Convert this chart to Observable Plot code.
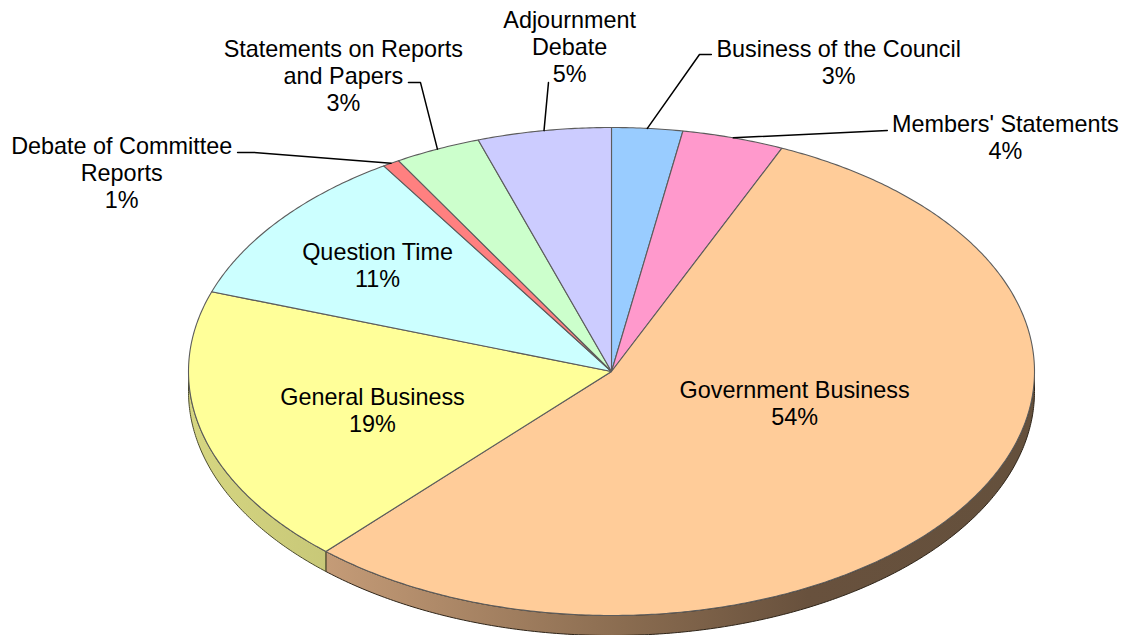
<!DOCTYPE html>
<html>
<head>
<meta charset="utf-8">
<style>html,body{margin:0;padding:0;background:#fff}svg{display:block}</style>
<script src="https://cdn.jsdelivr.net/npm/d3@7"></script>
<script src="https://cdn.jsdelivr.net/npm/@observablehq/plot@0.6"></script>
</head>
<body>
<div id="chart"></div>
<script>
// Slices clockwise from 12 o'clock
const categories = ["Business of the Council","Members' Statements","Government Business","General Business","Question Time","Debate of Committee Reports","Statements on Reports and Papers","Adjournment Debate"];
const drawnShares = [2.7, 3.9, 55.2, 18.5, 10.65, 0.65, 3.3, 5.1];
const labelTexts = ["Business of the Council\n3%","Members' Statements\n4%","Government Business\n54%","General Business\n19%","Question Time\n11%","Debate of Committee\nReports\n1%","Statements on Reports\nand Papers\n3%","Adjournment\nDebate\n5%"];
const sliceColors = ["#99CCFF","#FF99CC","#FFCC99","#FFFF99","#CCFFFF","#FF8080","#CCFFCC","#CCCCFF"];
// Label centres and leader-line bends, in pie radii (1 = rim)
const labelX = [0.537, 0.931, 0.433, -0.565, -0.553, -1.158, -0.634, -0.099];
const labelY = [1.269, 0.962, -0.128, -0.157, 0.437, 0.815, 1.214, 1.333];
const leaderBends = [
  [[0.236,1.299],[0.208,1.299]],
  [[0.652,0.988]],
  null, null, null,
  [[-0.884,0.898],[-0.846,0.898]],
  [[-0.480,1.184],[-0.4515,1.184]],
  [[-0.149,1.184]]
];
const depth = 0.082;

const rad = d => d * Math.PI / 180;
const rim = (deg, dv = 0) => ({x: Math.sin(rad(deg)), y: Math.cos(rad(deg)) - dv});
const total = d3.sum(drawnShares);
let acc = 0;
const slices = drawnShares.map((v, i) => {
  const a0 = acc / total * 360; acc += v; const a1 = acc / total * 360;
  return {i, name: categories[i], a0, a1, mid: (a0 + a1) / 2};
});
const arc = (a0, a1, dv = 0) => { const n = Math.max(2, Math.ceil((a1 - a0) / 0.5)); return d3.range(n + 1).map(k => rim(a0 + (a1 - a0) * k / n, dv)); };

const slicePoly = s => [{x:0,y:0}, ...arc(s.a0, s.a1), {x:0,y:0}];
const wall = (a0, a1) => { const top = arc(a0, a1), bot = arc(a0, a1, depth).reverse(); return [...top, ...bot, top[0]]; };

const govEnd = slices[2].a1;
const scaleX = {domain:[-1,1], range:[188,1034]};
const scaleY = {domain:[-1,1], range:[615,127]};

const defs = () => {
  const ns = "http://www.w3.org/2000/svg";
  const d = document.createElementNS(ns, "defs");
  const grad = (id, x1, x2, stops) => {
    const g = document.createElementNS(ns, "linearGradient");
    g.setAttribute("id", id); g.setAttribute("gradientUnits", "userSpaceOnUse");
    g.setAttribute("x1", x1); g.setAttribute("x2", x2); g.setAttribute("y1", 0); g.setAttribute("y2", 0);
    for (const [o, c] of stops) { const s = document.createElementNS(ns, "stop"); s.setAttribute("offset", o); s.setAttribute("stop-color", c); g.appendChild(s); }
    d.appendChild(g);
  };
  grad("wallGov", 327, 1034, [[0,"#c49b77"],[0.42,"#8a6c50"],[0.68,"#68513d"],[1,"#64503c"]]);
  grad("wallGen", 188, 327, [[0,"#d6d681"],[1,"#c8c878"]]);
  return d;
};

const leaders = slices.filter(s => leaderBends[s.i]).flatMap(s => {
  const pts = [...leaderBends[s.i].map(([x, y]) => ({x, y})), rim(s.mid)];
  return pts.map(p => ({...p, name: s.name}));
});
const labels = slices.map(s => ({x: labelX[s.i], y: labelY[s.i], text: labelTexts[s.i]}));

const chart = Plot.plot({
  width: 1122, height: 635,
  margin: 0,
  x: {...scaleX, axis: null},
  y: {...scaleY, axis: null},
  style: {background: "#fff"},
  marks: [
    defs,
    Plot.line(wall(90, govEnd), {x:"x", y:"y", fill:"url(#wallGov)", stroke:"#2e2418", strokeWidth:1}),
    Plot.line(wall(govEnd, 270), {x:"x", y:"y", fill:"url(#wallGen)", stroke:"#4a4a2c", strokeWidth:1}),
    ...slices.map(s => Plot.line(slicePoly(s), {x:"x", y:"y", fill: sliceColors[s.i], stroke:"#5c5c5c", strokeWidth:1.1, strokeLinejoin:"round"})),
    Plot.line(leaders, {x:"x", y:"y", z:"name", stroke:"#000", strokeWidth:1.5}),
    Plot.text(labels, {x:"x", y:"y", text:"text", fontSize:23.4, lineHeight:1.15, lineAnchor:"middle", textAnchor:"middle", fill:"#000", fontFamily:"'Liberation Sans', Arial, sans-serif"})
  ]
});
document.getElementById("chart").appendChild(chart);
</script>
</body>
</html>
